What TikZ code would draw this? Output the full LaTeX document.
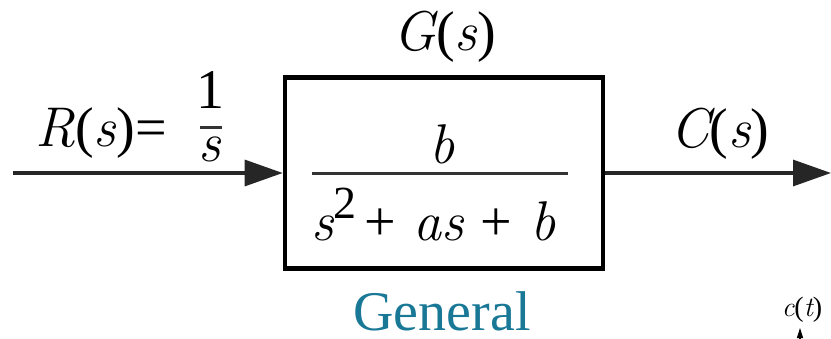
\documentclass[tikz,border=0pt]{standalone}
\usepackage{fontspec}
\newfontfamily\tms{Liberation Serif}
\usetikzlibrary{arrows.meta}
\definecolor{teal1}{RGB}{25,120,150}
\newcommand{\vr}[1]{{\rmfamily\itshape #1}}
\begin{document}
\begin{tikzpicture}[x=0.5pt,y=-0.5pt,
  lbl/.style={inner sep=0pt,font=\tms\fontsize{28}{33}\selectfont},
  sig/.style={line width=1.6pt,draw=black!85,-{Triangle[length=19pt,width=13pt]}},
  blockbox/.style={draw=black,line width=2.3pt,minimum width=159pt,minimum height=95.5pt,inner sep=0pt},
  fracbar/.style={line width=1.5pt,draw=black!80}]
\useasboundingbox (0,0) rectangle (831,338);
\node[blockbox] (box) at (444,173) {};
\coordinate (in) at (13,173);
\coordinate (out) at (831,173);
\draw[sig] (in) -- (box.west);
\draw[sig] (box.east) -- (out);
\node[lbl,anchor=base] (g) at (445,50) {\vr{G}(\vr{s})};
\node[lbl,anchor=base west] (r) at (35,146) {\vr{R}(\vr{s})=};
\node[lbl,anchor=base] (one) at (210,108) {1};
\node[lbl,anchor=base] (sden) at (210,161) {\vr{s}};
\draw[fracbar] (200,127) -- (222,127);
\node[lbl,anchor=base west] (c) at (670,147) {\vr{C}(\vr{s})};
\node[lbl,anchor=base] (num) at (442,163) {\vr{b}};
\draw[fracbar] (312,173.5) -- (568,173.5);
\node[lbl,anchor=base west] (den) at (311,240) {\vr{s}\raisebox{11pt}{\fontsize{23}{26}\selectfont 2}\hspace{4pt}+\hspace{8.5pt}\vr{as}\hspace{8.5pt}+\hspace{9pt}\vr{b}};
\node[lbl,anchor=base,text=teal1] (gen) at (442,330) {General};
\node[inner sep=0pt,anchor=base,font=\tms\fontsize{14}{16}\selectfont] (ct) at (802,316) {\vr{c}(\vr{t})};
\coordinate (axb) at (800,350);
\draw[line width=0.6pt,-{Triangle[length=5pt,width=3pt]}] (axb) -- (800,328);
\end{tikzpicture}
\end{document}
